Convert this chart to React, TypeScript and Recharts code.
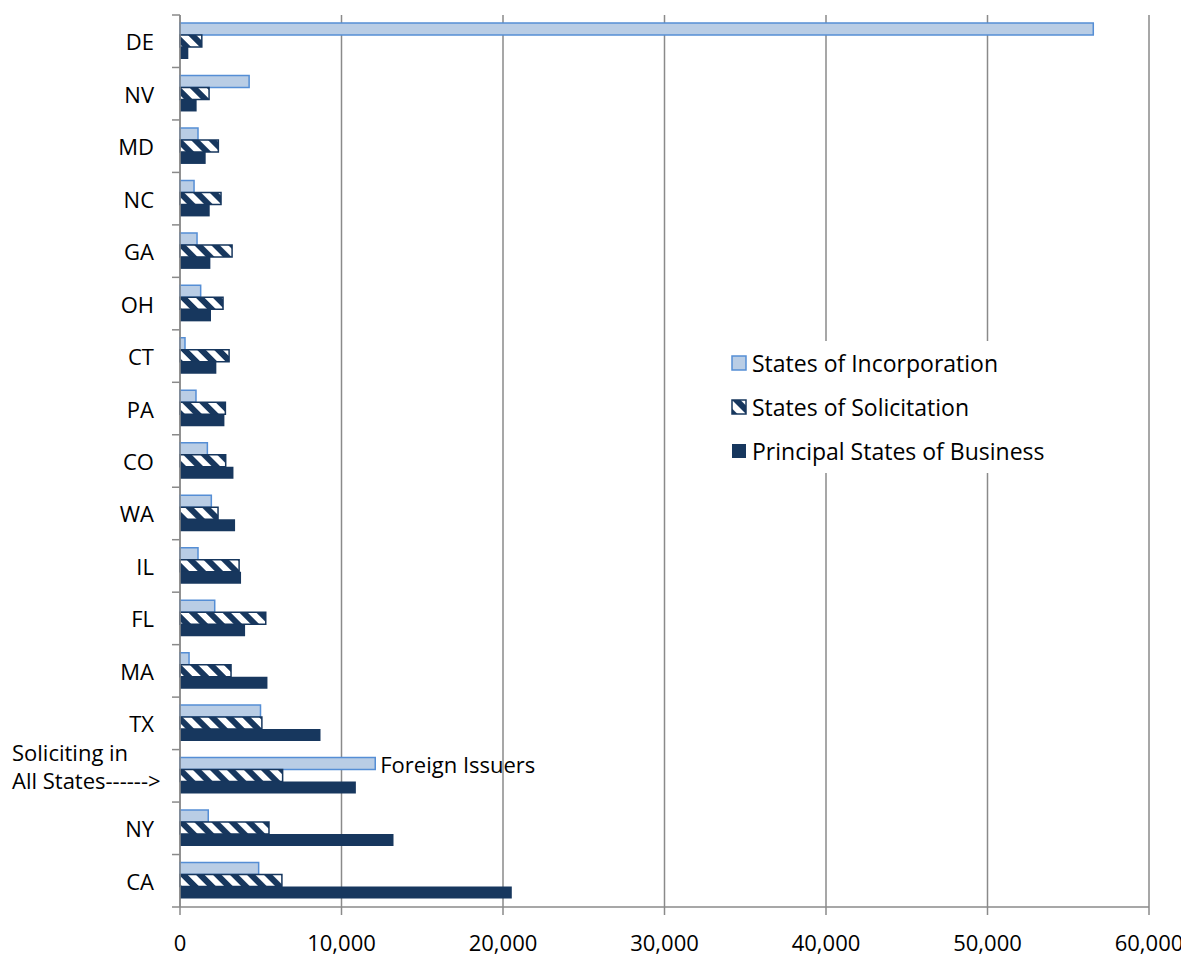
import React from "react";
import {
  BarChart,
  Bar,
  XAxis,
  YAxis,
  CartesianGrid,
  LabelList,
} from "recharts";

// categories top to bottom, as in the source chart
const states = [
  "DE",
  "NV",
  "MD",
  "NC",
  "GA",
  "OH",
  "CT",
  "PA",
  "CO",
  "WA",
  "IL",
  "FL",
  "MA",
  "TX",
  "Soliciting in\nAll States------>",
  "NY",
  "CA",
];

const incorporation = [
  56550, 4280, 1115, 870, 1055, 1280, 310, 990, 1695, 1940, 1115, 2150, 560,
  4985, 12090, 1750, 4870,
];
const solicitation = [
  1350, 1800, 2375, 2540, 3225, 2665, 3040, 2810, 2830, 2355, 3660, 5310, 3160,
  5070, 6355, 5510, 6310,
];
const principal = [
  515, 1030, 1590, 1840, 1880, 1920, 2250, 2750, 3310, 3410, 3780, 4030, 5415,
  8700, 10890, 13220, 20545,
];
const incorporationNotes = [
  "", "", "", "", "", "", "", "", "", "", "", "", "", "",
  "Foreign Issuers", "", "",
];

const xTicks = [0, 10000, 20000, 30000, 40000, 50000, 60000];

const seriesNames = [
  "States of Incorporation",
  "States of Solicitation",
  "Principal States of Business",
];

const FONT = "'Open Sans', sans-serif";
const GRID = "#8a8a8a";
const INC_FILL = "#b9cde5";
const INC_STROKE = "#558ed5";
const NAVY = "#17375e";

const WIDTH = 1181;
const HEIGHT = 949;
const MARGIN = { top: 7, right: 40, bottom: 0, left: 0 };
const Y_WIDTH = 172;
const X_HEIGHT = 50;
const PLOT_LEFT = MARGIN.left + Y_WIDTH;
const PLOT_H = HEIGHT - MARGIN.top - MARGIN.bottom - X_HEIGHT;
const BAND = PLOT_H / states.length;

const data = states.map((s, i) => ({
  state: s,
  inc: incorporation[i],
  sol: solicitation[i],
  psb: principal[i],
  note: incorporationNotes[i],
}));

function StripeDefs({ id }: { id: string }) {
  return (
    <defs>
      <pattern
        id={id}
        patternUnits="userSpaceOnUse"
        width={12}
        height={12}
        patternTransform="rotate(-45)"
      >
        <rect x={0} y={0} width={12} height={12} fill="#ffffff" />
        <rect x={0} y={0} width={6} height={12} fill={NAVY} />
      </pattern>
    </defs>
  );
}

function StateTick(props: any) {
  const { y, payload, index } = props;
  const lines = String(payload.value).split("\n");
  const top = y - BAND / 2;
  const isLast = index === states.length - 1;
  return (
    <g>
      <line x1={PLOT_LEFT - 8} x2={PLOT_LEFT} y1={top} y2={top} stroke={GRID} strokeWidth={1.5} />
      {isLast && (
        <line
          x1={PLOT_LEFT - 8}
          x2={PLOT_LEFT}
          y1={top + BAND}
          y2={top + BAND}
          stroke={GRID}
          strokeWidth={1.5}
        />
      )}
      {lines.length === 1 ? (
        <text
          x={PLOT_LEFT - 26}
          y={y}
          textAnchor="end"
          dominantBaseline="central"
          fontFamily={FONT}
          fontSize={22}
          fill="#000"
        >
          {lines[0]}
        </text>
      ) : (
        lines.map((ln, i) => (
          <text
            key={i}
            x={4}
            y={y - 10 + (i - (lines.length - 1) / 2) * 28}
            textAnchor="start"
            dominantBaseline="central"
            fontFamily={FONT}
            fontSize={22}
            fill="#000"
          >
            {ln}
          </text>
        ))
      )}
    </g>
  );
}

function NoteLabel(props: any) {
  const { x, y, width, height, index } = props;
  const note = incorporationNotes[index];
  if (!note) return null;
  return (
    <text
      x={x + width + 5}
      y={y + height / 2}
      dominantBaseline="central"
      fontFamily={FONT}
      fontSize={22}
      fill="#000"
    >
      {note}
    </text>
  );
}

function LegendBox() {
  const icon = (i: number) => {
    if (i === 0)
      return <rect x={1} y={1} width={14} height={14} fill={INC_FILL} stroke={INC_STROKE} strokeWidth={1.5} />;
    if (i === 1)
      return <rect x={1} y={1} width={14} height={14} fill="url(#legendStripes)" stroke={NAVY} strokeWidth={1.5} />;
    return <rect x={1} y={1} width={14} height={14} fill={NAVY} />;
  };
  return (
    <div
      style={{
        position: "absolute",
        left: 723,
        top: 333,
        fontFamily: FONT,
        fontSize: 23,
        color: "#000",
        background: "#fff",
      }}
    >
      {seriesNames.map((name, i) => (
        <div key={name} style={{ display: "flex", alignItems: "center", height: 44 }}>
          <svg width={16} height={16} style={{ marginRight: 5 }}>
            <StripeDefs id="legendStripes" />
            {icon(i)}
          </svg>
          <span>{name}</span>
        </div>
      ))}
    </div>
  );
}

export default function App() {
  return (
    <div style={{ position: "relative", width: WIDTH, height: HEIGHT, background: "#fff" }}>
      <BarChart
        width={WIDTH}
        height={HEIGHT}
        data={data}
        layout="vertical"
        margin={MARGIN}
        barSize={12}
        barGap={0}
      >
        <StripeDefs id="solStripes" />
        <CartesianGrid horizontal={false} stroke={GRID} strokeWidth={1.5} />
        <XAxis
          type="number"
          domain={[0, 60000]}
          ticks={xTicks}
          height={X_HEIGHT}
          tickSize={8}
          tickMargin={20}
          axisLine={{ stroke: GRID, strokeWidth: 1.5 }}
          tickLine={{ stroke: GRID, strokeWidth: 1.5 }}
          tick={{ fill: "#000", fontSize: 22, fontFamily: FONT }}
          tickFormatter={(v: number) => v.toLocaleString("en-US")}
        />
        <YAxis
          type="category"
          dataKey="state"
          width={Y_WIDTH}
          axisLine={{ stroke: GRID, strokeWidth: 1.5 }}
          tickLine={false}
          interval={0}
          tick={<StateTick />}
        />
        <Bar
          dataKey="inc"
          name={seriesNames[0]}
          fill={INC_FILL}
          stroke={INC_STROKE}
          strokeWidth={1.5}
          isAnimationActive={false}
        >
          <LabelList dataKey="note" content={<NoteLabel />} />
        </Bar>
        <Bar
          dataKey="sol"
          name={seriesNames[1]}
          fill="url(#solStripes)"
          stroke={NAVY}
          strokeWidth={1.5}
          isAnimationActive={false}
        />
        <Bar
          dataKey="psb"
          name={seriesNames[2]}
          fill={NAVY}
          isAnimationActive={false}
        />
      </BarChart>
      <LegendBox />
    </div>
  );
}
